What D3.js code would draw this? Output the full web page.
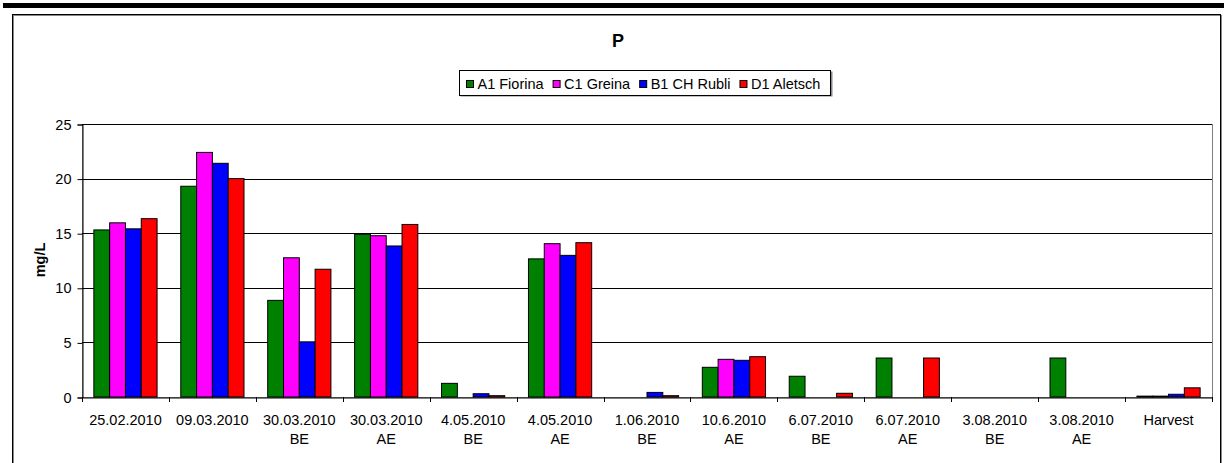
<!DOCTYPE html>
<html>
<head>
<meta charset="utf-8">
<script src="https://cdn.jsdelivr.net/npm/d3@7"></script>
<style>
  body { margin: 0; background: #fff; }
  text { font-family: "Liberation Sans", Arial, sans-serif; fill: #000; }
</style>
</head>
<body>
<div id="chart"></div>
<script>
//Data
var categories = [
  ["25.02.2010"], ["09.03.2010"], ["30.03.2010", "BE"], ["30.03.2010", "AE"],
  ["4.05.2010", "BE"], ["4.05.2010", "AE"], ["1.06.2010", "BE"], ["10.6.2010", "AE"],
  ["6.07.2010", "BE"], ["6.07.2010", "AE"], ["3.08.2010", "BE"], ["3.08.2010", "AE"],
  ["Harvest"]
];
var seriesNames = ["A1 Fiorina", "C1 Greina", "B1 CH Rubli", "D1 Aletsch"];
var seriesColors = ["#008000", "#ff00ff", "#0000ff", "#ff0000"];
var fiorina = [15.3, 19.3, 8.85, 14.9, 1.25, 12.65, 0, 2.72, 1.9, 3.57, 0, 3.57, 0.08];
var greina  = [15.95, 22.4, 12.75, 14.77, 0, 14.04, 0, 3.45, 0, 0, 0, 0, 0.08];
var rubli   = [15.4, 21.4, 5.05, 13.83, 0.3, 12.97, 0.42, 3.36, 0, 0, 0, 0, 0.25];
var aletsch = [16.33, 20.0, 11.7, 15.8, 0.12, 14.13, 0.12, 3.69, 0.34, 3.57, 0, 0, 0.84];
var yTicks = [0, 5, 10, 15, 20, 25];

function init() {
  var w = 1224;
  var h = 463;
  var plot = { left: 82, right: 1212, top: 124, bottom: 397 };
  var series = [fiorina, greina, rubli, aletsch];

  var svg = d3.select("#chart")
    .append("svg")
    .attr("width", w)
    .attr("height", h);

  svg.append("rect")
    .attr("width", w)
    .attr("height", h)
    .attr("fill", "#fff");

  //Top black band and chart frame
  svg.append("rect")
    .attr("x", 3).attr("y", 3)
    .attr("width", w - 3).attr("height", 5)
    .attr("fill", "#000");

  svg.append("rect")
    .attr("x", 13.5).attr("y", 15.5)
    .attr("width", 1208).attr("height", 500)
    .attr("fill", "none")
    .attr("stroke", "#888");
  svg.append("rect")
    .attr("x", 12.5).attr("y", 14.5)
    .attr("width", 1208).attr("height", 500)
    .attr("fill", "none")
    .attr("stroke", "#000");

  //Scales
  var xScale = d3.scaleBand()
    .domain(d3.range(categories.length))
    .range([plot.left, plot.right]);

  var barPad = xScale.bandwidth() * 0.75 / 5.5;
  var x1 = d3.scaleBand()
    .domain(d3.range(series.length))
    .range([barPad, xScale.bandwidth() - barPad]);

  var yScale = d3.scaleLinear()
    .domain([0, 25])
    .range([plot.bottom, plot.top]);

  //Plot area border
  svg.append("rect")
    .attr("x", plot.left + 0.5).attr("y", plot.top + 0.5)
    .attr("width", plot.right - plot.left).attr("height", plot.bottom - plot.top)
    .attr("fill", "none")
    .attr("stroke", "#808080");

  //Gridlines
  svg.selectAll(".grid")
    .data(yTicks.slice(1))
    .enter()
    .append("line")
    .attr("x1", plot.left)
    .attr("x2", plot.right)
    .attr("y1", function (d) { return Math.round(yScale(d)) + 0.5; })
    .attr("y2", function (d) { return Math.round(yScale(d)) + 0.5; })
    .attr("stroke", "#000");

  //Bars
  var groups = svg.selectAll(".cat")
    .data(categories)
    .enter()
    .append("g")
    .attr("transform", function (d, i) { return "translate(" + xScale(i) + ",0)"; });

  groups.selectAll("rect")
    .data(function (d, i) {
      return series.map(function (s, j) { return { s: j, v: s[i] }; });
    })
    .enter()
    .append("rect")
    .attr("x", function (d) { return x1(d.s); })
    .attr("y", function (d) { return yScale(d.v); })
    .attr("width", x1.bandwidth())
    .attr("height", function (d) { return yScale(0) - yScale(d.v); })
    .attr("fill", function (d) { return seriesColors[d.s]; })
    .attr("stroke", "#000")
    .attr("stroke-width", 1);

  //Y axis
  var yAxis = d3.axisLeft(yScale)
    .tickValues(yTicks)
    .tickSize(5)
    .tickPadding(6);

  var yg = svg.append("g")
    .attr("transform", "translate(" + (plot.left + 0.5) + ",0.5)")
    .call(yAxis);
  yg.selectAll("text")
    .attr("font-size", "14.5px")
    .attr("font-family", "Liberation Sans, Arial, sans-serif");
  yg.selectAll("line, path").attr("stroke", "#000");

  //X axis
  var xAxis = d3.axisBottom(xScale)
    .tickSize(0)
    .tickFormat("");

  var xg = svg.append("g")
    .attr("transform", "translate(0," + (plot.bottom + 0.5) + ")")
    .call(xAxis);
  xg.select("path").attr("stroke", "#000");

  //Ticks at category boundaries
  svg.selectAll(".xtick")
    .data(d3.range(categories.length + 1))
    .enter()
    .append("line")
    .attr("x1", function (d) { return Math.round(plot.left + d * xScale.step()) + 0.5; })
    .attr("x2", function (d) { return Math.round(plot.left + d * xScale.step()) + 0.5; })
    .attr("y1", plot.bottom)
    .attr("y2", plot.bottom + 5)
    .attr("stroke", "#000");

  //Category labels
  var labels = svg.selectAll(".xlabel")
    .data(categories)
    .enter()
    .append("text")
    .attr("text-anchor", "middle")
    .attr("font-size", "14.5px")
    .attr("transform", function (d, i) {
      return "translate(" + (xScale(i) + xScale.bandwidth() / 2) + ",425)";
    });

  labels.selectAll("tspan")
    .data(function (d) { return d; })
    .enter()
    .append("tspan")
    .attr("x", 0)
    .attr("y", function (d, i) { return i * 19; })
    .text(function (d) { return d; });

  //Axis title
  svg.append("text")
    .attr("transform", "translate(45,260) rotate(-90)")
    .attr("text-anchor", "middle")
    .attr("font-size", "14.5px")
    .attr("font-weight", "bold")
    .text("mg/L");

  //Chart title
  svg.append("text")
    .attr("x", 618)
    .attr("y", 47)
    .attr("text-anchor", "middle")
    .attr("font-size", "18px")
    .attr("font-weight", "bold")
    .text("P");

  //Legend
  var legend = svg.append("g");
  var lx = 466;
  var items = [];
  seriesNames.forEach(function (name, i) {
    var g = legend.append("g").attr("transform", "translate(" + lx + ",0)");
    g.append("rect")
      .attr("x", 0.5).attr("y", 80.5)
      .attr("width", 7).attr("height", 7)
      .attr("fill", seriesColors[i])
      .attr("stroke", "#000");
    var t = g.append("text")
      .attr("x", 11.5)
      .attr("y", 89)
      .attr("font-size", "14.5px")
      .text(name);
    lx += 11.5 + t.node().getComputedTextLength() + 9;
  });

  legend.insert("rect", ":first-child")
    .attr("x", 460.5).attr("y", 71.5)
    .attr("width", 372).attr("height", 25)
    .attr("fill", "#888");
  legend.insert("rect", ":nth-child(2)")
    .attr("x", 459.5).attr("y", 70.5)
    .attr("width", 371).attr("height", 25)
    .attr("fill", "#fff")
    .attr("stroke", "#000");
}

window.onload = init;
</script>
</body>
</html>
